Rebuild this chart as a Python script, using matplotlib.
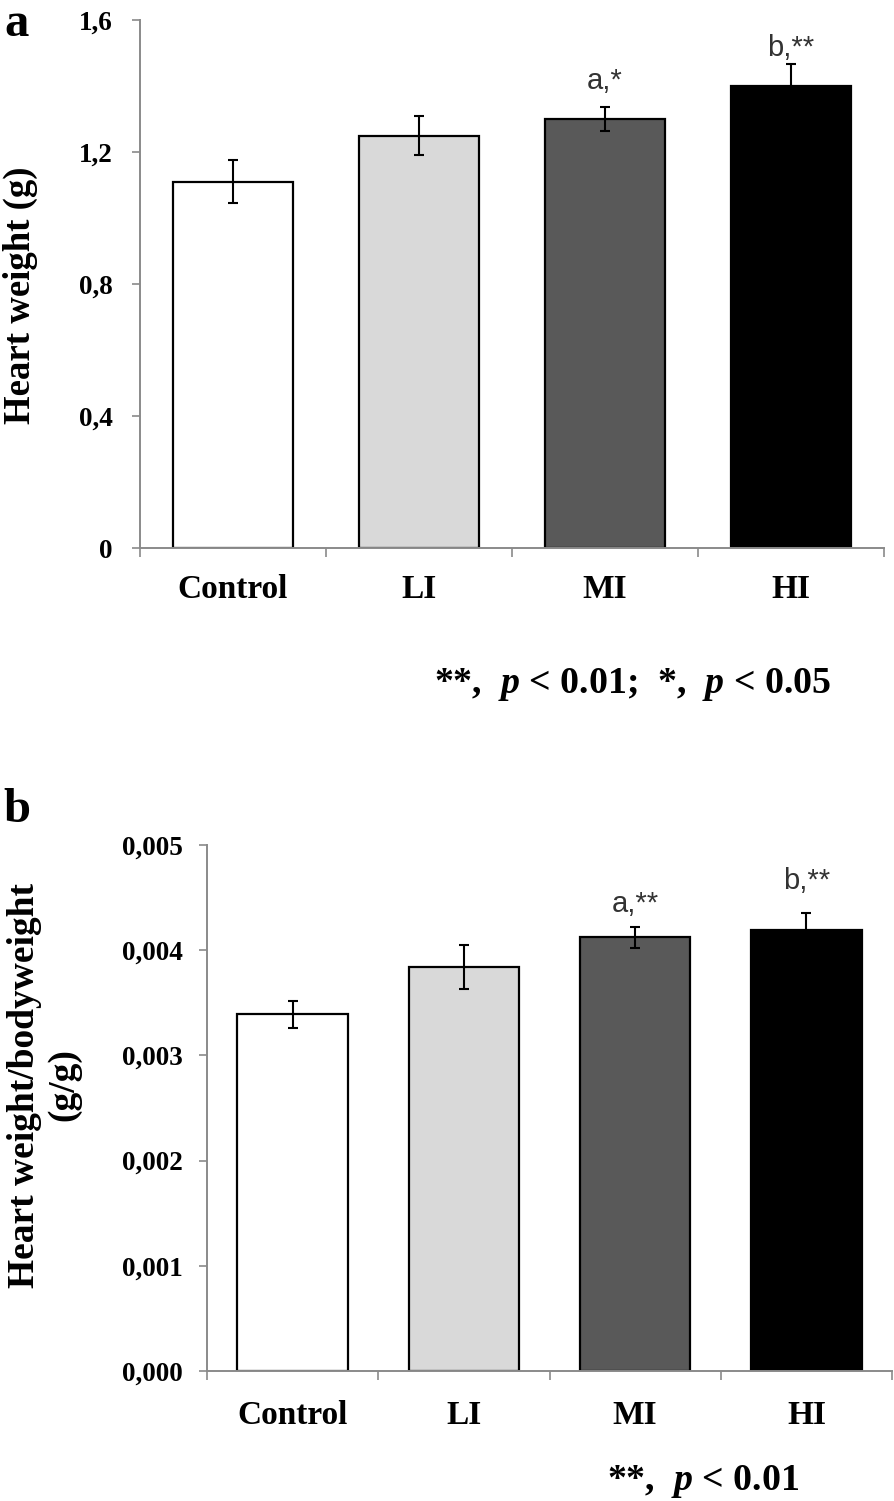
import matplotlib
matplotlib.use('Agg')
import matplotlib.pyplot as plt

# ---------------- data ----------------
categories = ['Control', 'LI', 'MI', 'HI']
heart_weight = [1.11, 1.25, 1.30, 1.40]
heart_weight_err = [0.066, 0.060, 0.036, 0.066]
hw_ratio = [0.00339, 0.00384, 0.004125, 0.00419]
hw_ratio_err = [0.00013, 0.00021, 0.00010, 0.00016]
a_ticks = [0, 0.4, 0.8, 1.2, 1.6]
a_ticklabels = ['0', '0,4', '0,8', '1,2', '1,6']
b_ticks = [0, 0.001, 0.002, 0.003, 0.004, 0.005]
b_ticklabels = ['0,000', '0,001', '0,002', '0,003', '0,004', '0,005']
a_annot = ['', '', 'a,*', 'b,**']
b_annot = ['', '', 'a,**', 'b,**']
a_note = r'**,  $p$ < 0.01;  *,  $p$ < 0.05'
b_note = r'**,  $p$ < 0.01'

# ---------------- style ----------------
bar_colors = ['white', '#d9d9d9', '#595959', 'black']
SERIF = 'Liberation Serif'
SANS = 'Liberation Sans'
GRAY = '#8a8a8a'
plt.rcParams['mathtext.fontset'] = 'custom'
plt.rcParams['mathtext.rm'] = 'Liberation Serif:bold'
plt.rcParams['mathtext.bf'] = 'Liberation Serif:bold'
plt.rcParams['mathtext.it'] = 'Liberation Serif:italic:bold'

W, H = 894, 1501
fig = plt.figure(figsize=(W / 100, H / 100), dpi=100)


def px_box(l, r, top, bot):
    return [l / W, 1 - bot / H, (r - l) / W, (bot - top) / H]


def draw(ax, vals, errs, ticks, ticklabels, annots, offsets, ymax, ypad, xpad):
    x = list(range(len(categories)))
    ax.bar(x, vals, width=0.645, color=bar_colors, edgecolor='black',
           linewidth=1.6, zorder=2)
    ax.errorbar(x, vals, yerr=errs, fmt='none', ecolor='black',
                elinewidth=1.5, capsize=3.6, capthick=1.5, zorder=3)
    for xi, v, e, t, o in zip(x, vals, errs, annots, offsets):
        if t:
            ax.annotate(t, (xi, v + e), xytext=(0, o), textcoords='offset points',
                        ha='center', va='bottom', fontsize=21,
                        family=SANS, color='#333333')
    ax.set_xlim(-0.5, len(categories) - 0.5)
    ax.set_ylim(0, ymax)
    ax.set_yticks(ticks)
    ax.set_yticklabels(ticklabels, fontsize=19.5, family=SERIF, fontweight='bold')
    ax.set_xticks([i + 0.5 for i in range(-1, len(categories))])
    ax.set_xticklabels([])
    ax.set_xticks(x, minor=True)
    ax.set_xticklabels(categories, minor=True, fontsize=24, family=SERIF,
                       fontweight='bold')
    ax.tick_params(axis='x', which='major', length=6.5, width=1.2, color=GRAY,
                   direction='out')
    ax.tick_params(axis='x', which='minor', length=0, pad=xpad)
    ax.tick_params(axis='y', length=6, width=1.2, color=GRAY, pad=ypad,
                   direction='out')
    for s in ['top', 'right']:
        ax.spines[s].set_visible(False)
    for s in ['left', 'bottom']:
        ax.spines[s].set_color(GRAY)
        ax.spines[s].set_linewidth(1.4)


ax1 = fig.add_axes(px_box(140, 884, 20, 548))
draw(ax1, heart_weight, heart_weight_err, a_ticks, a_ticklabels, a_annot,
     [0, 0, 9, 1.5], 1.6, 13.5, 19)

ax2 = fig.add_axes(px_box(207, 892, 845, 1371))
draw(ax2, hw_ratio, hw_ratio_err, b_ticks, b_ticklabels, b_annot,
     [0, 0, 6.5, 13.5], 0.005, 11.5, 21)

# y labels
fig.text(20 / W, 1 - 295 / H, 'Heart weight (g)', rotation=90, ha='center',
         va='center', fontsize=26.5, family=SERIF, fontweight='bold')
fig.text(44 / W, 1 - 1085 / H, 'Heart weight/bodyweight\n(g/g)', rotation=90,
         ha='center', va='center', multialignment='center', linespacing=1.15,
         fontsize=27, family=SERIF, fontweight='bold')

# panel letters
fig.text(4 / W, 1 - 2 / H, 'a', ha='left', va='top', fontsize=35,
         family=SERIF, fontweight='bold')
fig.text(3 / W, 1 - 822 / H, 'b', ha='left', va='baseline', fontsize=35,
         family=SERIF, fontweight='bold')

# footnotes
fig.text(831 / W, 1 - 693 / H, a_note, ha='right', va='baseline', fontsize=27.3,
         family=SERIF, fontweight='bold')
fig.text(799 / W, 1 - 1490 / H, b_note, ha='right', va='baseline', fontsize=27.3,
         family=SERIF, fontweight='bold')

fig.savefig('out.png', dpi=100)
